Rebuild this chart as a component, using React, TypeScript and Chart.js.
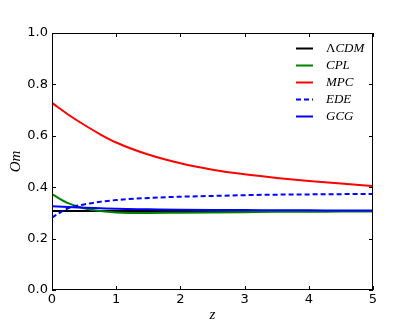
import React, { useEffect, useRef } from "react";
import { Chart, registerables } from "chart.js";

Chart.register(...registerables);

const zValues = [0, 0.25, 0.5, 0.75, 1, 1.5, 2, 2.5, 3, 3.5, 4, 4.5, 5];
const lcdm = [0.307, 0.307, 0.307, 0.307, 0.307, 0.307, 0.307, 0.307, 0.307, 0.307, 0.307, 0.307, 0.307];
const cpl = [0.373, 0.338, 0.318, 0.307, 0.302, 0.3, 0.301, 0.302, 0.303, 0.304, 0.304, 0.305, 0.305];
const mpc = [0.728, 0.683, 0.643, 0.606, 0.574, 0.527, 0.493, 0.468, 0.45, 0.436, 0.424, 0.414, 0.405];
const ede = [0.282, 0.318, 0.333, 0.343, 0.35, 0.358, 0.363, 0.366, 0.369, 0.371, 0.372, 0.373, 0.374];
const gcg = [0.326, 0.323, 0.32, 0.318, 0.316, 0.314, 0.312, 0.311, 0.311, 0.31, 0.31, 0.309, 0.309];
const seriesLabels = ["ΛCDM", "CPL", "MPC", "EDE", "GCG"];
const xTicks = [0, 1, 2, 3, 4, 5];
const yTicks = [0, 0.2, 0.4, 0.6, 0.8, 1.0];

const frameAndLegend = {
  id: "frameAndLegend",
  afterDatasetsDraw(chart: any) {
    const { ctx, chartArea: a, scales } = chart;
    ctx.save();
    ctx.strokeStyle = "#000";
    ctx.lineWidth = 1;
    ctx.strokeRect(a.left + 0.5, a.top + 0.5, a.right - a.left - 1, a.bottom - a.top - 1);
    ctx.beginPath();
    const tl = 4;
    xTicks.forEach((v) => {
      const px = Math.round(scales.x.getPixelForValue(v)) + 0.5;
      ctx.moveTo(px, a.bottom);
      ctx.lineTo(px, a.bottom - tl);
      ctx.moveTo(px, a.top);
      ctx.lineTo(px, a.top + tl);
    });
    yTicks.forEach((v) => {
      const py = Math.round(scales.y.getPixelForValue(v)) + 0.5;
      ctx.moveTo(a.left, py);
      ctx.lineTo(a.left + tl, py);
      ctx.moveTo(a.right, py);
      ctx.lineTo(a.right - tl, py);
    });
    ctx.stroke();

    // legend
    chart.data.datasets.forEach((ds: any, i: number) => {
      const y = a.top + 15.5 + i * 17;
      ctx.beginPath();
      ctx.strokeStyle = ds.borderColor;
      ctx.lineWidth = 2;
      ctx.setLineDash(ds.borderDash || []);
      ctx.moveTo(a.right - 77, y);
      ctx.lineTo(a.right - 60, y);
      ctx.stroke();
      ctx.setLineDash([]);
      ctx.fillStyle = "#000";
      ctx.textBaseline = "middle";
      ctx.textAlign = "left";
      let x = a.right - 47;
      let text = ds.label as string;
      if (text.startsWith("Λ")) {
        ctx.font = "13px 'Liberation Serif'";
        ctx.fillText("Λ", x, y);
        x += ctx.measureText("Λ").width;
        text = text.slice(1);
      }
      ctx.font = "italic 13px 'Liberation Serif'";
      ctx.fillText(text, x, y);
    });

    // axis titles
    ctx.fillStyle = "#000";
    ctx.font = "italic 15px 'Liberation Serif'";
    ctx.textAlign = "center";
    ctx.textBaseline = "middle";
    ctx.fillText("z", (a.left + a.right) / 2, 315);
    ctx.save();
    ctx.translate(16, (a.top + a.bottom) / 2);
    ctx.rotate(-Math.PI / 2);
    ctx.fillText("Om", 0, 0);
    ctx.restore();
    ctx.restore();
  },
};

export default function App() {
  const ref = useRef<HTMLCanvasElement>(null);
  useEffect(() => {
    if (!ref.current) return;
    const colors = ["#000000", "#008000", "#ff0000", "#0000ff", "#0000ff"];
    const values = [lcdm, cpl, mpc, ede, gcg];
    const chart = new Chart(ref.current, {
      type: "line",
      data: {
        datasets: values.map((vals, i) => ({
          label: seriesLabels[i],
          data: vals.map((v, j) => ({ x: zValues[j], y: v })),
          borderColor: colors[i],
          borderWidth: 2,
          borderDash: i === 3 ? [5, 3] : [],
          pointRadius: 0,
          cubicInterpolationMode: "monotone",
          fill: false,
          order: 5 - i,
        })),
      },
      options: {
        animation: false,
        responsive: false,
        layout: { padding: { top: 33, right: 42, left: 0, bottom: 0 } },
        plugins: { legend: { display: false }, tooltip: { enabled: false } },
        scales: {
          x: {
            type: "linear",
            min: 0,
            max: 5,
            afterFit: (s: any) => {
              s.height = 42;
            },
            afterBuildTicks: (s: any) => {
              s.ticks = xTicks.map((v) => ({ value: v }));
            },
            grid: { display: false, drawTicks: false },
            border: { display: false },
            ticks: {
              color: "#000",
              font: { family: "'DejaVu Sans'", size: 13 },
              padding: 2,
              maxRotation: 0,
              callback: (v: any) => String(v),
            },
          },
          y: {
            type: "linear",
            min: 0,
            max: 1,
            afterFit: (s: any) => {
              s.width = 52;
            },
            afterBuildTicks: (s: any) => {
              s.ticks = yTicks.map((v) => ({ value: v }));
            },
            grid: { display: false, drawTicks: false },
            border: { display: false },
            ticks: {
              color: "#000",
              font: { family: "'DejaVu Sans'", size: 13 },
              padding: 4,
              callback: (v: any) => Number(v).toFixed(1),
            },
          },
        },
      },
      plugins: [frameAndLegend],
    });
    return () => chart.destroy();
  }, []);
  return (
    <div style={{ position: "fixed", left: 0, top: 0, width: 415, height: 332, background: "#fff" }}>
      <canvas ref={ref} width={415} height={332} />
    </div>
  );
}
